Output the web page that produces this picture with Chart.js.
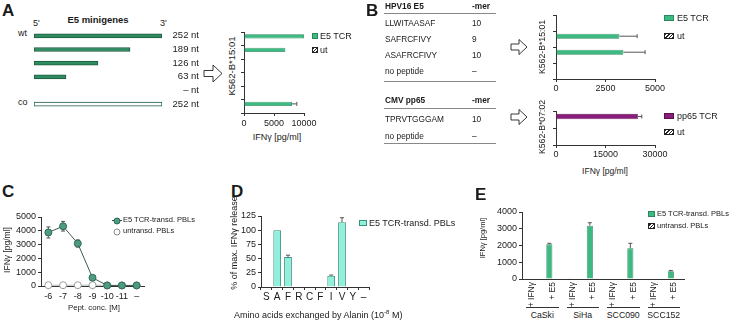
<!DOCTYPE html>
<html lang="en">
<head>
<meta charset="UTF-8">
<title>E5 TCR figure</title>
<script src="https://cdn.jsdelivr.net/npm/chart.js"></script>
<style>
  html, body { margin: 0; padding: 0; background: #fff; }
  #fig { position: relative; width: 741px; height: 320px; overflow: hidden;
         font-family: "Liberation Sans", Arial, sans-serif; color: #1a1a1a; }
  canvas { position: absolute; }
  svg { position: absolute; left: 0; top: 0; }
  .t { position: absolute; line-height: 1; white-space: nowrap; font-size: 9px; transform: translateY(-50%); }
  .c { transform: translate(-50%, -50%); }
  .v { transform: translate(-50%, -50%) rotate(-90deg); }
  .b { font-weight: bold; }
  .sm { font-size: 8.3px; }
  .xs { font-size: 7.5px; }
  .pl { font-size: 17px; font-weight: bold; }
  .hl { position: absolute; height: 0; border-top: 1px solid #888; }
  .box { position: absolute; box-sizing: border-box; border: 1px solid #2a8a5e; background: #3fb982; }
  .hatch { background: repeating-linear-gradient(-45deg, #222 0 1px, #fff 1px 2.4px); border-color: #222; }
  .dot { position: absolute; width: 7px; height: 7px; border-radius: 50%; box-sizing: border-box; transform: translate(-50%, -50%); }
</style>
</head>
<body>
<div id="fig">
  <svg width="741" height="320">
    <g fill="#fff" stroke="#222" stroke-width="0.9">
      <polygon points="204,70.5 213,70.5 213,65 222,73.5 213,82 213,76.5 204,76.5"/>
      <polygon points="511,44 519,44 519,39.5 527,47 519,54.5 519,50 511,50"/>
      <polygon points="511,114 519,114 519,109.5 527,117 519,124.5 519,120 511,120"/>
    </g>
  </svg>

  <!-- A -->
  <div class="t pl" style="left:2px;top:10px">A</div>
  <div class="t c b" style="left:98px;top:20px;font-size:9.5px">E5 minigenes</div>
  <div class="t" style="left:33px;top:23px">5'</div>
  <div class="t" style="left:160px;top:23px">3'</div>
  <div class="t" style="left:18px;top:33px">wt</div>
  <div class="t" style="left:18px;top:102px">co</div>
  <canvas id="miniA" width="165" height="82" style="left:34px;top:29px"></canvas>
  <canvas id="respA" width="80" height="99" style="left:238px;top:28px"></canvas>
  <div class="t v" style="left:232px;top:66px;font-size:9.5px">K562-B*15:01</div>
  <div class="t c" style="left:277px;top:137px">IFNγ [pg/ml]</div>
  <div class="box" style="left:312px;top:33px;width:6px;height:6px"></div>
  <div class="t" style="left:320px;top:36px">E5 TCR</div>
  <div class="box hatch" style="left:312px;top:47px;width:6px;height:6px"></div>
  <div class="t" style="left:320px;top:50px">ut</div>

  <!-- B -->
  <div class="t pl" style="left:366px;top:10px">B</div>
  <div class="t b sm" style="left:385px;top:6px">HPV16 E5</div>
  <div class="t b sm" style="left:472px;top:6px">-mer</div>
  <div class="hl" style="left:384px;top:13px;width:112px"></div>
  <div class="t sm" style="left:385px;top:23px">LLWITAASAF</div>
  <div class="t sm" style="left:472px;top:23px">10</div>
  <div class="t sm" style="left:385px;top:39px">SAFRCFIVY</div>
  <div class="t sm" style="left:472px;top:39px">9</div>
  <div class="t sm" style="left:385px;top:55px">ASAFRCFIVY</div>
  <div class="t sm" style="left:472px;top:55px">10</div>
  <div class="t sm" style="left:385px;top:71px">no peptide</div>
  <div class="t sm" style="left:472px;top:71px">–</div>
  <div class="hl" style="left:384px;top:81px;width:112px"></div>
  <div class="t b sm" style="left:385px;top:100px">CMV pp65</div>
  <div class="t b sm" style="left:472px;top:100px">-mer</div>
  <div class="hl" style="left:384px;top:108px;width:112px"></div>
  <div class="t sm" style="left:385px;top:119px">TPRVTGGGAM</div>
  <div class="t sm" style="left:472px;top:119px">10</div>
  <div class="t sm" style="left:385px;top:136px">no peptide</div>
  <div class="t sm" style="left:472px;top:136px">–</div>
  <div class="hl" style="left:384px;top:143px;width:112px"></div>
  <canvas id="respB1" width="119" height="82" style="left:550px;top:11px"></canvas>
  <canvas id="respB2" width="119" height="52" style="left:550px;top:107px"></canvas>
  <div class="t v" style="left:542px;top:47px;font-size:8.7px">K562-B*15:01</div>
  <div class="t v" style="left:542px;top:127px;font-size:8.7px">K562-B*07:02</div>
  <div class="t c" style="left:605px;top:171px;font-size:8.5px">IFNγ [pg/ml]</div>
  <div class="box" style="left:664px;top:15px;width:10px;height:6px"></div>
  <div class="t" style="left:677px;top:18px">E5 TCR</div>
  <div class="box hatch" style="left:664px;top:33px;width:10px;height:6px"></div>
  <div class="t" style="left:677px;top:36px">ut</div>
  <div class="box" style="left:664px;top:113px;width:10px;height:6px;background:#8a1c7c;border-color:#5a1050"></div>
  <div class="t" style="left:677px;top:116px">pp65 TCR</div>
  <div class="box hatch" style="left:664px;top:129px;width:10px;height:6px"></div>
  <div class="t" style="left:677px;top:132px">ut</div>

  <!-- C -->
  <div class="t pl" style="left:2px;top:191px">C</div>
  <canvas id="lineC" width="139" height="89" style="left:10px;top:211px"></canvas>
  <div class="t v" style="left:7px;top:250px;font-size:8.5px">IFNγ [pg/ml]</div>
  <div class="t c" style="left:94px;top:308px;font-size:7.8px">Pept. conc. [M]</div>
  <div class="hl" style="left:112px;top:220px;width:10px;border-color:#444"></div>
  <div class="dot" style="left:117px;top:220.5px;background:#4e9b7f;border:1px solid #2d6a55"></div>
  <div class="t xs" style="left:123px;top:220px">E5 TCR-transd. PBLs</div>
  <div class="dot" style="left:117px;top:231.5px;background:#fff;border:1px solid #888"></div>
  <div class="t xs" style="left:123px;top:231px">untransd. PBLs</div>

  <!-- D -->
  <div class="t pl" style="left:231px;top:191px">D</div>
  <div class="t v" style="left:234px;top:243px">% of max. IFNγ release</div>
  <canvas id="barD" width="131" height="91" style="left:240px;top:210px"></canvas>
  <div class="t" style="left:234px;top:314px">Amino acids exchanged by Alanin (10<sup style="font-size:6px;vertical-align:4px">-8</sup> M)</div>
  <div class="box" style="left:359px;top:220px;width:8px;height:6px;background:#8ff0dc;border-color:#3e8e7d"></div>
  <div class="t" style="left:369px;top:223px">E5 TCR-transd. PBLs</div>

  <!-- E -->
  <div class="t pl" style="left:475px;top:194px">E</div>
  <canvas id="barE" width="194" height="101" style="left:492px;top:206px"></canvas>
  <div class="t v" style="left:483px;top:238px;font-size:7.5px">IFNγ [pg/ml]</div>
  <div class="box" style="left:648px;top:211px;width:7px;height:6px"></div>
  <div class="t xs" style="left:657px;top:214px">E5 TCR-transd. PBLs</div>
  <div class="box hatch" style="left:648px;top:223px;width:7px;height:6px"></div>
  <div class="t xs" style="left:657px;top:226px">untransd. PBLs</div>
</div>

<script>
  // ---- data ----
  const miniLabels = ['252 nt', '189 nt', '126 nt', '63 nt', '\u2013 nt', '252 nt'];
  const miniLength = [252, 189, 126, 63, 0, 252];
  const miniE5 = [10000, 6900, 80, 0, 0, 8000];
  const miniE5Err = [0, 0, 0, 0, 0, 800];
  const miniUt = [0, 0, 0, 0, 0, 0];

  const hpvPeptides = ['LLWITAASAF', 'SAFRCFIVY', 'ASAFRCFIVY', 'no peptide'];
  const hpvE5 = [0, 3200, 3400, 40];
  const hpvE5Err = [0, 900, 1100, 0];
  const hpvUt = [0, 0, 0, 0];

  const cmvPeptides = ['TPRVTGGGAM', 'no peptide'];
  const cmvPp65 = [24800, 0];
  const cmvPp65Err = [1200, 0];
  const cmvUt = [0, 0];

  const peptConc = ['-6', '-7', '-8', '-9', '-10', '-11', '\u2013'];
  const concE5 = [3880, 4330, 3080, 600, 40, 40, 40];
  const concE5Err = [400, 350, 260, 0, 0, 0, 0];
  const concUntr = [60, 60, 60, 60, 40, 40, 40];

  const alaPositions = ['S', 'A', 'F', 'R', 'C', 'F', 'I', 'V', 'Y', '\u2013'];
  const alaE5 = [0.8, 100, 53, 0, 0, 0, 20, 114, 0, 0];
  const alaE5Err = [0, 0, 3, 0, 0, 0, 1, 8, 0, 0];

  const cellLines = ['CaSki', 'SiHa', 'SCC090', 'SCC152'];
  const cellTargets = ['+ IFN\u03b3', '+ E5', '+ IFN\u03b3', '+ E5', '+ IFN\u03b3', '+ E5', '+ IFN\u03b3', '+ E5'];
  const cellE5 = [0, 2070, 40, 3180, 0, 1830, 0, 470];
  const cellE5Err = [0, 60, 0, 180, 0, 300, 0, 40];
  const cellUt = [0, 0, 0, 40, 0, 0, 0, 0];

  // ---- styles ----
  const green = '#3fb982', greenDark = '#2a8a5e';
  Chart.defaults.font.family = '"Liberation Sans", Arial, sans-serif';
  Chart.defaults.font.size = 9;
  Chart.defaults.color = '#1a1a1a';
  Chart.defaults.animation = false;
  Chart.defaults.responsive = false;
  Chart.defaults.devicePixelRatio = 1;
  Chart.defaults.plugins.legend.display = false;
  Chart.defaults.plugins.tooltip.enabled = false;
  Chart.defaults.scale.ticks.autoSkip = false;
  Chart.defaults.scale.ticks.maxRotation = 0;

  const axisLine = { color: '#333', width: 1 };
  const plain = v => String(v);
  const tickGrid = len => ({ display: true, drawOnChartArea: false, drawTicks: true, tickLength: len, color: '#333' });
  const fitX = h => s => { s.height = h; s.paddingLeft = 0; s.paddingRight = 0; };
  const fitY = w => s => { s.width = w; s.paddingTop = 0; s.paddingBottom = 0; };
  // shared value axis for the vertical charts
  const valueY = (max, step, w) => ({
    min: 0, max: max,
    ticks: { stepSize: step, padding: 2, callback: plain },
    grid: tickGrid(3), border: axisLine, afterFit: fitY(w)
  });

  function hatch() {
    const c = document.createElement('canvas');
    c.width = 4; c.height = 4;
    const g = c.getContext('2d');
    g.fillStyle = '#fff'; g.fillRect(0, 0, 4, 4);
    g.strokeStyle = '#222'; g.lineWidth = 1;
    g.beginPath(); g.moveTo(0, 4); g.lineTo(4, 0); g.stroke();
    return g.createPattern(c, 'repeat');
  }

  // error bars, drawn from the value scale
  function drawErrors(chart) {
    const ctx = chart.ctx;
    const horiz = chart.options.indexAxis === 'y';
    const vs = horiz ? chart.scales.x : chart.scales.y;
    chart.data.datasets.forEach((ds, i) => {
      if (!ds.errors) return;
      const meta = chart.getDatasetMeta(i);
      ctx.save();
      ctx.strokeStyle = '#555';
      ctx.lineWidth = 1;
      meta.data.forEach((el, j) => {
        const e = ds.errors[j];
        if (!e) return;
        const v = ds.data[j];
        const hi = vs.getPixelForValue(v + e);
        const lo = vs.getPixelForValue(ds.twoSided ? v - e : v);
        const cap = 2;
        ctx.beginPath();
        if (horiz) {
          ctx.moveTo(lo, el.y); ctx.lineTo(hi, el.y);
          ctx.moveTo(hi, el.y - cap); ctx.lineTo(hi, el.y + cap);
        } else {
          ctx.moveTo(el.x, lo); ctx.lineTo(el.x, hi);
          ctx.moveTo(el.x - cap, hi); ctx.lineTo(el.x + cap, hi);
          if (ds.twoSided) { ctx.moveTo(el.x - cap, lo); ctx.lineTo(el.x + cap, lo); }
        }
        ctx.stroke();
      });
      ctx.restore();
    });
  }
  Chart.register({
    id: 'errorBars',
    beforeDatasetsDraw(chart) { if (chart.config.type === 'line') drawErrors(chart); },
    afterDatasetsDraw(chart) { if (chart.config.type !== 'line') drawErrors(chart); }
  });

  // A: minigene constructs
  new Chart(document.getElementById('miniA'), {
    type: 'bar',
    data: {
      labels: miniLabels,
      datasets: [{
        data: miniLength,
        backgroundColor: c => c.dataIndex === 5 ? '#fff' : '#2f8b60',
        borderColor: '#1e5a3e', borderWidth: 1, borderSkipped: false, barThickness: 4
      }]
    },
    options: {
      indexAxis: 'y',
      scales: {
        x: { display: false, min: 0, max: 252 },
        y: {
          position: 'right',
          grid: { display: false, drawTicks: false }, border: { display: false },
          ticks: { crossAlign: 'far', padding: 10, font: { size: 9.5 } },
          afterFit: fitY(37)
        }
      }
    }
  });

  // A: IFNg response to minigenes
  new Chart(document.getElementById('respA'), {
    type: 'bar',
    data: {
      labels: miniLabels,
      datasets: [
        { label: 'E5 TCR', data: miniE5, errors: miniE5Err, backgroundColor: green, borderColor: greenDark, borderWidth: 0.8 },
        { label: 'ut', data: miniUt, backgroundColor: hatch(), borderColor: '#222', borderWidth: 0.8 }
      ]
    },
    options: {
      indexAxis: 'y',
      layout: { padding: { top: 4, right: 14 } },
      datasets: { bar: { categoryPercentage: 0.7, barPercentage: 0.9 } },
      scales: {
        x: { min: 0, max: 10000, ticks: { stepSize: 5000, padding: 2, callback: plain }, grid: tickGrid(3), border: axisLine, afterFit: fitX(14) },
        y: { ticks: { display: false }, grid: tickGrid(3), border: axisLine, afterFit: fitY(6) }
      }
    }
  });

  // B: HPV16 E5 peptides
  new Chart(document.getElementById('respB1'), {
    type: 'bar',
    data: {
      labels: hpvPeptides,
      datasets: [
        { label: 'E5 TCR', data: hpvE5, errors: hpvE5Err, backgroundColor: green, borderColor: greenDark, borderWidth: 0.8 },
        { label: 'ut', data: hpvUt, backgroundColor: hatch(), borderColor: '#222', borderWidth: 0.8 }
      ]
    },
    options: {
      indexAxis: 'y',
      layout: { padding: { top: 4, right: 14 } },
      datasets: { bar: { categoryPercentage: 0.7, barPercentage: 0.9 } },
      scales: {
        x: { min: 0, max: 5000, ticks: { stepSize: 2500, padding: 1, callback: plain }, grid: tickGrid(3), border: axisLine, afterFit: fitX(14) },
        y: { ticks: { display: false }, grid: tickGrid(3), border: axisLine, afterFit: fitY(6) }
      }
    }
  });

  // B: CMV pp65 control
  new Chart(document.getElementById('respB2'), {
    type: 'bar',
    data: {
      labels: cmvPeptides,
      datasets: [
        { label: 'pp65 TCR', data: cmvPp65, errors: cmvPp65Err, backgroundColor: '#8a1c7c', borderColor: '#5a1050', borderWidth: 0.8 },
        { label: 'ut', data: cmvUt, backgroundColor: hatch(), borderColor: '#222', borderWidth: 0.8 }
      ]
    },
    options: {
      indexAxis: 'y',
      layout: { padding: { top: 4, right: 14 } },
      datasets: { bar: { categoryPercentage: 0.7, barPercentage: 0.9 } },
      scales: {
        x: { min: 0, max: 30000, ticks: { stepSize: 15000, padding: 1, callback: plain }, grid: tickGrid(3), border: axisLine, afterFit: fitX(14) },
        y: { ticks: { display: false }, grid: tickGrid(3), border: axisLine, afterFit: fitY(6) }
      }
    }
  });

  // C: peptide titration
  new Chart(document.getElementById('lineC'), {
    type: 'line',
    data: {
      labels: peptConc,
      datasets: [
        { label: 'E5 TCR-transd. PBLs', data: concE5, errors: concE5Err, twoSided: true, clip: false,
          borderColor: '#3f5a50', borderWidth: 1, pointRadius: 3.5,
          pointBackgroundColor: '#4e9b7f', pointBorderColor: '#2d6a55', pointBorderWidth: 1 },
        { label: 'untransd. PBLs', data: concUntr, clip: false,
          borderColor: '#bbb', borderWidth: 1, pointRadius: 3.5,
          pointBackgroundColor: '#fff', pointBorderColor: '#888', pointBorderWidth: 0.8 }
      ]
    },
    options: {
      layout: { padding: { top: 6, right: 2 } },
      scales: {
        x: { offset: true, ticks: { padding: 2 }, grid: tickGrid(3), border: axisLine, afterFit: fitX(14) },
        y: valueY(5000, 1000, 31)
      }
    }
  });

  // D: alanine scan
  new Chart(document.getElementById('barD'), {
    type: 'bar',
    data: {
      labels: alaPositions,
      datasets: [{
        label: 'E5 TCR-transd. PBLs', data: alaE5, errors: alaE5Err,
        backgroundColor: '#8ff0dc', borderColor: '#3e8e7d', borderWidth: 1
      }]
    },
    options: {
      layout: { padding: { top: 6, right: 2 } },
      datasets: { bar: { categoryPercentage: 0.72, barPercentage: 1 } },
      scales: {
        x: { ticks: { padding: 1, font: { size: 10 } }, grid: tickGrid(3), border: axisLine, afterFit: fitX(14) },
        y: valueY(125, 25, 21)
      }
    }
  });

  // E: tumor cell lines
  const chartE = new Chart(document.getElementById('barE'), {
    type: 'bar',
    data: {
      labels: cellTargets,
      datasets: [
        { label: 'E5 TCR-transd. PBLs', data: cellE5, errors: cellE5Err, backgroundColor: green, borderColor: greenDark, borderWidth: 0.8 },
        { label: 'untransd. PBLs', data: cellUt, backgroundColor: hatch(), borderColor: '#222', borderWidth: 0.8 }
      ]
    },
    options: {
      layout: { padding: { top: 6, right: 2 } },
      datasets: { bar: { categoryPercentage: 0.6, barPercentage: 1 } },
      scales: {
        x: { ticks: { minRotation: 90, maxRotation: 90, padding: 3, font: { size: 8.5 } }, grid: { display: false, drawTicks: false }, border: axisLine, afterFit: fitX(28) },
        y: valueY(4000, 1000, 30)
      }
    }
  });

  // cell line group labels under the E axis, placed from the category scale
  const fig = document.getElementById('fig');
  const xsE = chartE.scales.x;
  const offE = 492;
  cellLines.forEach((name, i) => {
    const a = xsE.getPixelForValue(2 * i) + offE;
    const b = xsE.getPixelForValue(2 * i + 1) + offE;
    const half = (b - a) / 2;
    const line = document.createElement('div');
    line.className = 'hl';
    line.style.cssText = `left:${a - half + 4}px;top:307px;width:${b - a + 2 * half - 8}px;border-color:#333`;
    fig.appendChild(line);
    const lab = document.createElement('div');
    lab.className = 't c';
    lab.style.cssText = `left:${(a + b) / 2}px;top:315px;font-size:8.7px`;
    lab.textContent = name;
    fig.appendChild(lab);
  });
</script>
</body>
</html>
